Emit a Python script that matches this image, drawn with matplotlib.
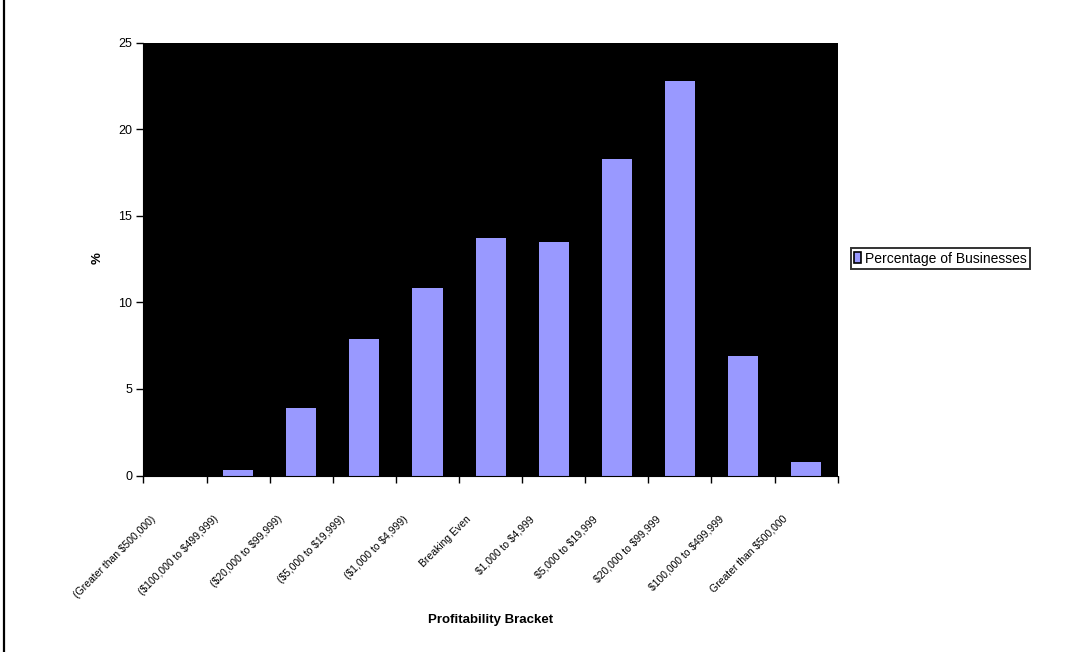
import matplotlib
matplotlib.use("Agg")
import matplotlib.pyplot as plt
import matplotlib.transforms as mtransforms
from matplotlib.lines import Line2D
from matplotlib.patches import Patch
import numpy as np

plt.rcParams['font.family'] = ['Liberation Sans', 'DejaVu Sans']
plt.rcParams['text.parse_math'] = False

brackets = [
    "(Greater than $500,000)",
    "($100,000 to $499,999)",
    "($20,000 to $99,999)",
    "($5,000 to $19,999)",
    "($1,000 to $4,999)",
    "Breaking Even",
    "$1,000 to $4,999",
    "$5,000 to $19,999",
    "$20,000 to $99,999",
    "$100,000 to $499,999",
    "Greater than $500,000",
]
percentages = [0.0, 0.3, 3.9, 7.9, 10.8, 13.7, 13.5, 18.3, 22.8, 6.9, 0.8]
series_name = "Percentage of Businesses"
y_ticks = [0, 5, 10, 15, 20, 25]

bar_color = "#9999FF"

fig = plt.figure(figsize=(10.74, 6.52), dpi=100)
ax = fig.add_axes([0.1336, 0.2707, 0.6464, 0.6641])
ax.set_facecolor("black")

x = np.arange(len(brackets))
ax.bar(x, percentages, width=0.476, color=bar_color, edgecolor="none", zorder=2)

ax.set_xlim(-0.5, len(brackets) - 0.5)
ax.set_ylim(0, 25)
ax.set_yticks(y_ticks)
ax.set_yticklabels([str(t) for t in y_ticks], fontsize=9)

# ticks sit on category boundaries; labels are placed separately
ax.set_xticks(np.arange(len(brackets) + 1) - 0.5)
ax.set_xticklabels([])
ax.tick_params(axis="x", direction="out", length=5, width=1, color="black")
ax.tick_params(axis="y", direction="out", length=5, width=1, color="black", pad=3)

for s in ax.spines.values():
    s.set_visible(False)
ax.spines["bottom"].set_visible(True)
ax.spines["bottom"].set_color("black")
ax.spines["left"].set_visible(True)
ax.spines["left"].set_color("black")

# rotated category labels
offset = mtransforms.ScaledTranslation(-21 / 100, -42 / 100, fig.dpi_scale_trans)
trans = mtransforms.blended_transform_factory(ax.transData, ax.transAxes) + offset
for xi, lab in zip(x, brackets):
    ax.text(xi, 0, lab, rotation=45, ha="right", va="center",
            rotation_mode="anchor", fontsize=7.5, transform=trans)

fig.text(0.4566, 0.049, "Profitability Bracket", ha="center", va="center",
         fontsize=9.5, fontweight="bold")
fig.text(0.0905, 0.604, "%", ha="center", va="center", rotation=90,
         fontsize=9.5, fontweight="bold")

handle = Patch(facecolor=bar_color, edgecolor="black", linewidth=1.2)
leg = fig.legend([handle], [series_name], loc="center left",
                 bbox_to_anchor=(0.7924, 0.6035), fontsize=10,
                 frameon=True, fancybox=False, handlelength=0.5,
                 handleheight=0.9, handletextpad=0.3, borderpad=0.22,
                 borderaxespad=0)
leg.get_frame().set_edgecolor("black")
leg.get_frame().set_linewidth(1.4)

# frame line down the left side of the chart area
fig.add_artist(Line2D([0.0037, 0.0037], [0, 1], color="black", linewidth=1.6,
                      transform=fig.transFigure))

fig.savefig("out.png", dpi=100, facecolor="white")
